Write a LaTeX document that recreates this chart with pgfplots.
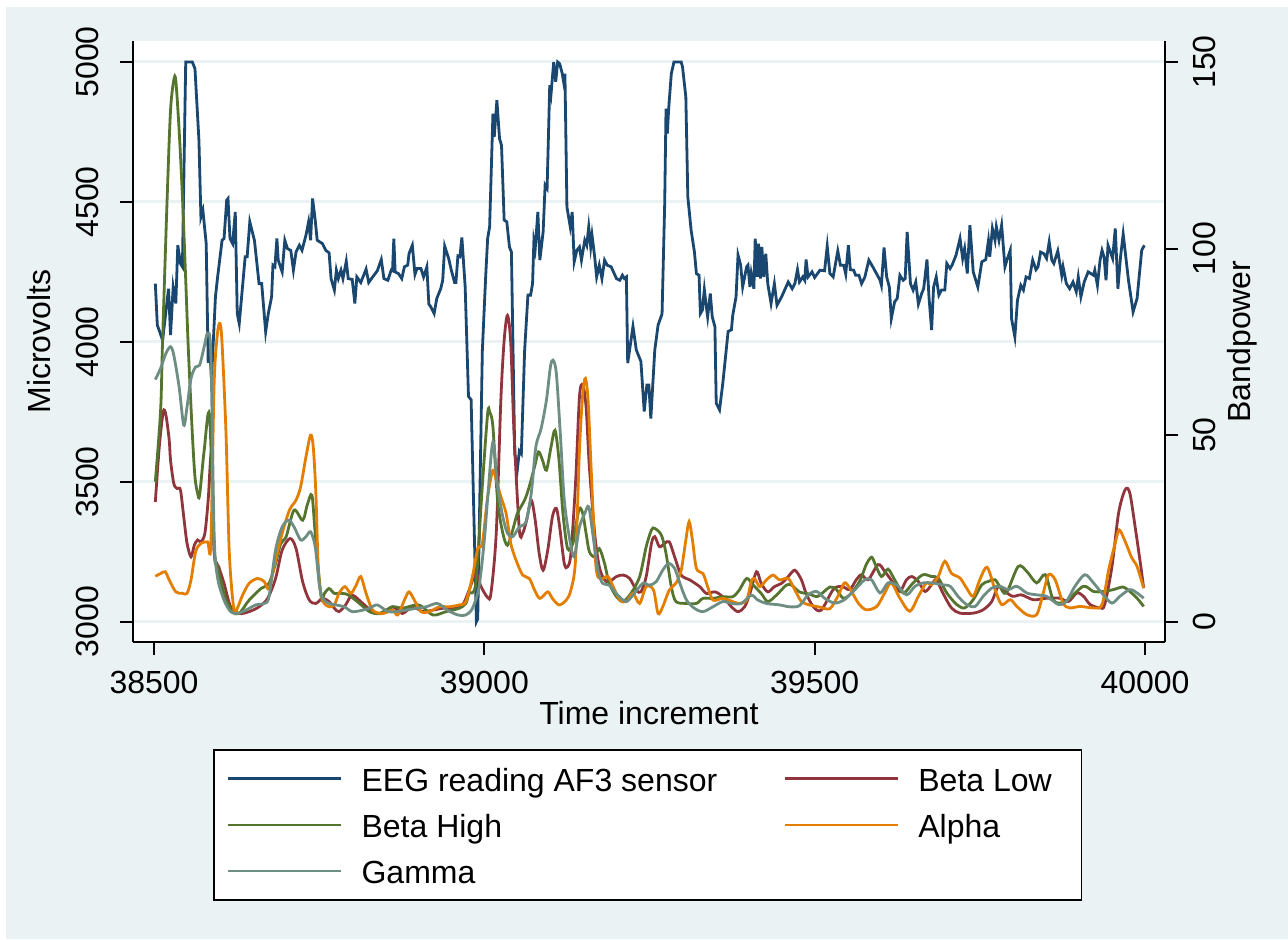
\documentclass[border=0pt]{standalone}
\usepackage{fontspec}
\setmainfont{Liberation Sans}
\usepackage{pgfplots}
\pgfplotsset{compat=1.18}
\definecolor{bgblue}{RGB}{234,242,243}
\definecolor{snavy}{RGB}{26,71,111}
\definecolor{smaroon}{RGB}{144,53,59}
\definecolor{sgreen}{RGB}{85,117,47}
\definecolor{sorange}{RGB}{227,126,0}
\definecolor{steal}{RGB}{110,142,132}
\pgfplotsset{
  common/.style={
    at={(66.5pt,148.5pt)}, anchor=south west,
    width=516pt, height=300.5pt, scale only axis,
    xmin=38468.2, xmax=40030.3,
    font=\fontsize{16}{19}\selectfont,
    axis line style={line width=1pt, black},
    tick style={line width=1pt, black},
    major tick length=6.5pt,
    tick align=outside,
    scaled ticks=false,
    /pgf/number format/1000 sep={},
    /pgf/number format/assume math mode=true,
  }
}
\begin{document}
\begin{tikzpicture}
\fill[white] (0,0) rectangle (644pt,469.5pt);
\fill[bgblue] (3pt,0) rectangle (644pt,466pt);
\begin{axis}[common,
  axis x line*=bottom, axis y line*=left,
  ymin=2927.5, ymax=5075,
  ytick={3000,3500,4000,4500,5000},
  xtick={38500,39000,39500,40000},
  ymajorgrids, grid style={line width=1.5pt, bgblue},
  axis background/.style={fill=white},
  yticklabel style={xshift=-11pt, rotate=90, anchor=base, inner sep=0pt},
  xticklabel style={yshift=-19pt, anchor=base, inner sep=0pt},
  xlabel={Time increment}, ylabel={Microvolts},
  xlabel style={at={(axis description cs:0.5,-0.138)}, anchor=base, inner sep=0pt},
  ylabel style={at={(axis description cs:-0.0804,0.5)}, anchor=base, inner sep=0pt},
]
\addplot[snavy, line width=1.4pt] coordinates {
(38502,4208)(38505,4060)(38513,4006)(38522,4190)(38525,4024)(38529,4196)(38533,4137)(38536,4345)(38540,4280)(38543,4268)
(38548,5000)(38558,5000)(38562,4976)(38568,4720)(38571,4446)(38574,4470)(38579,4351)(38582,3925)(38584,3990)(38587,3864)
(38593,4161)(38596,4226)(38603,4363)(38606,4369)(38610,4506)(38612,4512)(38615,4369)(38619,4351)(38623,4464)(38626,4101)
(38629,4065)(38638,4304)(38641,4304)(38645,4429)(38652,4363)(38659,4208)(38663,4208)(38669,4036)(38673,4101)(38678,4161)
(38680,4274)(38683,4268)(38686,4369)(38688,4292)(38694,4250)(38698,4363)(38702,4333)(38707,4327)(38711,4256)(38715,4321)
(38720,4345)(38724,4327)(38730,4381)(38734,4429)(38737,4363)(38740,4512)(38744,4435)(38747,4363)(38755,4351)(38760,4327)
(38765,4318)(38768,4226)(38773,4185)(38776,4256)(38779,4226)(38783,4256)(38786,4226)(38791,4288)(38794,4226)(38800,4223)
(38804,4137)(38807,4232)(38813,4212)(38821,4260)(38825,4212)(38831,4232)(38838,4254)(38844,4294)(38848,4226)(38854,4220)
(38859,4256)(38861,4254)(38863,4369)(38865,4250)(38870,4244)(38875,4226)(38879,4268)(38884,4274)(38886,4315)(38891,4345)
(38895,4241)(38898,4262)(38904,4262)(38908,4232)(38913,4268)(38916,4135)(38919,4125)(38924,4101)(38928,4155)(38934,4190)
(38937,4220)(38940,4342)(38946,4298)(38950,4256)(38955,4212)(38957,4212)(38960,4307)(38963,4304)(38966,4373)(38971,4196)
(38976,3805)(38980,3793)(38988,3000)(38990,3010)(38997,3970)(39002,4232)(39005,4369)(39008,4411)(39013,4815)(39015,4732)
(39019,4863)(39023,4726)(39026,4702)(39030,4435)(39034,4429)(39038,4339)(39041,4321)(39046,3600)(39050,3545)(39053,3610)
(39056,3600)(39061,3970)(39066,4167)(39070,4167)(39073,4208)(39075,4360)(39077,4333)(39081,4464)(39084,4292)(39089,4393)
(39092,4560)(39095,4548)(39099,4917)(39101,4887)(39105,5000)(39108,4929)(39111,5000)(39114,4994)(39118,4958)(39120,4929)
(39122,4958)(39125,4482)(39130,4411)(39133,4464)(39136,4286)(39140,4327)(39144,4339)(39147,4292)(39152,4363)(39155,4345)
(39158,4411)(39161,4339)(39163,4381)(39167,4304)(39170,4232)(39174,4274)(39178,4226)(39182,4292)(39186,4274)(39192,4268)
(39200,4226)(39205,4220)(39209,4238)(39212,4226)(39215,4232)(39217,3924)(39225,4055)(39230,3971)(39237,3930)(39242,3751)
(39246,3846)(39249,3846)(39252,3726)(39258,3971)(39263,4060)(39269,4100)(39273,4494)(39275,4833)(39277,4744)(39279,4833)
(39283,4958)(39287,5000)(39298,5000)(39300,4982)(39305,4875)(39308,4518)(39313,4399)(39318,4321)(39321,4244)(39325,4238)
(39327,4101)(39330,4113)(39333,4187)(39336,4125)(39338,4089)(39342,4173)(39345,4089)(39349,4054)(39351,3781)(39356,3757)
(39361,3853)(39369,4037)(39374,4043)(39376,4095)(39381,4161)(39384,4310)(39388,4274)(39391,4196)(39397,4268)(39399,4274)
(39402,4196)(39404,4244)(39408,4190)(39410,4369)(39413,4232)(39415,4351)(39418,4226)(39420,4339)(39423,4232)(39426,4315)
(39429,4208)(39434,4137)(39439,4208)(39443,4131)(39450,4161)(39460,4214)(39466,4190)(39470,4208)(39474,4258)(39477,4214)
(39482,4232)(39485,4220)(39487,4294)(39490,4232)(39496,4250)(39500,4230)(39508,4256)(39515,4254)(39519,4342)(39523,4244)
(39528,4232)(39535,4325)(39539,4274)(39544,4274)(39547,4242)(39551,4345)(39554,4258)(39559,4256)(39562,4238)(39567,4238)
(39571,4208)(39576,4232)(39582,4292)(39588,4268)(39594,4242)(39599,4220)(39601,4202)(39605,4337)(39609,4232)(39613,4196)
(39616,4083)(39621,4143)(39625,4155)(39629,4238)(39634,4220)(39637,4226)(39640,4393)(39645,4208)(39649,4185)(39653,4214)
(39657,4135)(39662,4173)(39665,4190)(39670,4294)(39673,4161)(39677,4042)(39680,4196)(39684,4232)(39688,4167)(39692,4185)
(39697,4185)(39700,4280)(39705,4262)(39708,4274)(39714,4310)(39720,4369)(39724,4298)(39727,4333)(39731,4244)(39735,4417)
(39740,4250)(39747,4196)(39753,4286)(39759,4294)(39763,4361)(39765,4304)(39769,4405)(39773,4363)(39775,4411)(39779,4363)
(39783,4417)(39788,4268)(39791,4292)(39796,4327)(39798,4083)(39803,4018)(39807,4149)(39812,4202)(39816,4185)(39820,4232)
(39825,4226)(39830,4292)(39835,4258)(39838,4268)(39842,4321)(39847,4315)(39851,4298)(39855,4357)(39859,4292)(39862,4280)
(39868,4325)(39874,4238)(39876,4268)(39881,4208)(39886,4190)(39891,4214)(39896,4179)(39899,4232)(39903,4161)(39908,4214)
(39914,4250)(39922,4238)(39924,4256)(39928,4202)(39932,4292)(39935,4327)(39938,4304)(39941,4220)(39944,4345)(39951,4298)
(39955,4405)(39959,4190)(39963,4304)(39967,4385)(39975,4220)(39982,4107)(39988,4155)(39995,4327)(39999,4345)
};
\end{axis}
\begin{axis}[common,
  axis x line=none, axis y line*=right,
  ymin=-5.44, ymax=155.625,
  ytick={0,50,100,150},
  yticklabel style={xshift=18.5pt, rotate=90, anchor=base, inner sep=0pt},
  ylabel={Bandpower},
  ylabel style={at={(axis description cs:1.0824,0.5)}, anchor=base, inner sep=0pt},
  legend columns=2,
  legend cell align=left,
  legend image code/.code={\draw[#1] (0pt,0pt) -- (56.5pt,0pt);},
  legend style={at={(axis description cs:0.0775,-0.178)}, anchor=north west,
    draw=black, line width=0.8pt, fill=white, inner xsep=6.5pt, inner ysep=3pt,
    row sep=0pt, column sep=0pt, font=\fontsize{16}{19}\selectfont,
    nodes={inner sep=0pt, text height=17.7pt, text depth=5.35pt},
    /tikz/every odd column/.append style={column sep=9.5pt}},
]
\addlegendimage{snavy, line width=1.4pt}
\addlegendentry{\makebox[211pt][l]{EEG reading AF3 sensor}}
\addplot[smaroon, line width=1.4pt, smooth] coordinates {
(38502,32.1)(38508,46.9)(38514,56.25)(38518,55.4)(38523,48.7)(38525,43.3)(38530,37)(38535,35.7)(38540,35.3)(38545,28.1)
(38550,21)(38556,17.4)(38561,20.5)(38566,21.9)(38571,21.4)(38577,23.7)(38582,32.6)(38587,45.1)(38591,19.2)(38598,14.7)
(38606,10.3)(38616,4)(38629,2.2)(38644,2.7)(38659,4)(38672,6.25)(38684,11.6)(38694,19.2)(38706,22.3)(38715,19.6)
(38725,10.7)(38735,5.8)(38745,4.9)(38755,6.25)(38765,5.4)(38773,3.6)(38780,2.7)(38790,4.5)(38800,7.1)(38816,4.9)
(38831,2.7)(38846,2.2)(38861,4)(38876,2.2)(38891,4)(38907,2.7)(38922,3.1)(38937,3.6)(38952,3.6)(38967,4.5)
(38977,8.5)(38987,12.9)(38995,9.4)(39005,6.5)(39010,7.6)(39018,23.7)(39025,59.4)(39030,75.4)(39035,82.1)(39040,74.6)
(39045,50.4)(39053,24.6)(39058,23.7)(39064,27.2)(39071,32.6)(39077,27.2)(39083,18.3)(39089,13.8)(39096,19.2)(39103,28.1)
(39109,30.4)(39114,25.4)(39121,15.6)(39126,14.7)(39131,18.3)(39138,37)(39144,60.3)(39149,63.4)(39154,57.6)(39159,41.5)
(39167,23.7)(39174,14.7)(39182,11.2)(39189,10.7)(39200,12.1)(39210,12.5)(39220,11.6)(39230,8.5)(39237,8)(39245,12.1)
(39253,21)(39258,22.8)(39265,20.1)(39273,21)(39280,21.4)(39288,17.4)(39298,12.5)(39311,11.2)(39326,9.4)(39336,7.6)
(39349,8)(39361,6.7)(39374,4)(39384,2.7)(39394,4)(39402,7.6)(39412,13.4)(39419,10.3)(39429,8)(39439,9.4)
(39450,10.3)(39460,12.1)(39470,13.8)(39480,11.2)(39487,7.6)(39498,4)(39510,3.1)(39528,8.6)(39541,9.5)(39553,8.6)
(39563,11.25)(39571,12.6)(39581,11.25)(39596,15.3)(39606,13.5)(39619,10.4)(39629,8.1)(39639,11.25)(39647,12.1)(39657,10.8)
(39667,8.1)(39677,9.9)(39684,11.25)(39694,7.7)(39707,3.7)(39720,2.3)(39740,2.3)(39755,3.2)(39768,5.4)(39778,9.5)
(39788,8.1)(39800,6.8)(39813,7.2)(39831,5.9)(39851,6.3)(39871,6.3)(39884,5.4)(39897,7.7)(39907,6.8)(39917,4.6)
(39932,3.7)(39939,4.6)(39950,14.8)(39960,29.1)(39970,35.4)(39977,34.5)(39985,25.5)(39993,15.7)(39998,9)
};
\addlegendentry{\makebox[75pt][l]{Beta Low}}
\addplot[sgreen, line width=1.4pt, smooth] coordinates {
(38502,37.5)(38510,56.7)(38513,75.5)(38520,114)(38525,137)(38530,145.2)(38533,145)(38538,131.8)(38543,114)(38548,91.6)
(38552,72.9)(38558,50.4)(38562,38.8)(38566,34.4)(38569,33.9)(38576,46)(38584,55.4)(38591,19.2)(38596,14.7)(38609,5.8)
(38621,2.7)(38629,2.2)(38644,5.8)(38662,8.9)(38674,10.3)(38684,15.6)(38692,21)(38700,22.8)(38712,29.9)(38725,27.2)
(38732,31.3)(38739,33.9)(38744,23.7)(38753,6.7)(38758,7.6)(38765,8.9)(38773,7.6)(38785,7.6)(38795,7.1)(38811,4.9)
(38826,2.7)(38841,2.2)(38861,4)(38876,3.6)(38901,4.5)(38922,1.8)(38942,2.7)(38962,3.6)(38972,4.9)(38977,7.6)
(38987,10.3)(38997,36.6)(39005,55.8)(39008,56.25)(39013,52.2)(39020,32.6)(39028,23.7)(39035,20.5)(39043,24.6)(39050,29)
(39061,32.6)(39068,36.2)(39076,41.5)(39082,45.5)(39088,43.3)(39094,40.6)(39101,46.9)(39107,51.3)(39113,43.3)(39119,29)
(39126,19.6)(39134,21)(39139,26.3)(39144,30.4)(39149,29)(39154,23.7)(39159,18.75)(39167,17.4)(39174,19.6)(39182,15.6)
(39189,10.3)(39200,6.7)(39210,5.4)(39222,7.6)(39235,12)(39245,20.1)(39253,24.6)(39258,25)(39268,23.2)(39275,18.3)
(39283,9.4)(39290,5.4)(39306,4.9)(39321,4.9)(39331,6.25)(39346,6.25)(39361,6.7)(39376,6.7)(39386,8.5)(39397,11.6)
(39407,9.8)(39419,7.6)(39429,5.4)(39442,7.1)(39457,9.8)(39465,9.8)(39477,8)(39492,7.4)(39505,6.8)(39523,9.3)
(39533,8.6)(39543,6.3)(39553,7.2)(39568,10.8)(39578,15.3)(39586,17.3)(39591,15.7)(39601,12.1)(39611,14.1)(39621,11.25)
(39634,7.7)(39649,10.4)(39664,12.6)(39677,12.1)(39687,11.7)(39700,7.7)(39715,4.6)(39727,3.7)(39740,5.9)(39753,9.9)
(39763,10.8)(39773,11.25)(39780,9.5)(39790,7.7)(39808,14.8)(39821,13.5)(39836,10.4)(39849,12.6)(39861,5.9)(39874,5)
(39886,6.3)(39907,9.5)(39922,8.1)(39937,8.1)(39952,8.6)(39967,9.3)(39977,8.1)(39988,6.3)(39998,4.1)
};
\addlegendentry{\makebox[211pt][l]{Beta High}}
\addplot[sorange, line width=1.4pt, smooth] coordinates {
(38502,12.2)(38510,12.9)(38517,13.4)(38523,11.2)(38533,8)(38543,7.6)(38550,7.6)(38556,11.2)(38563,18.75)(38571,21)
(38581,21.4)(38586,20.5)(38591,63.8)(38596,77.2)(38600,79.9)(38603,74.6)(38609,50.4)(38614,18.3)(38621,3.1)(38626,3.6)
(38634,7.1)(38644,10.3)(38657,11.6)(38667,10.7)(38674,8.9)(38684,16.5)(38694,23.7)(38705,29.9)(38715,32.6)(38722,36.2)
(38730,44.2)(38737,50)(38741,46.9)(38745,34.4)(38749,12.9)(38755,5.8)(38765,4)(38773,4.5)(38780,7.6)(38789,9.4)
(38798,7.6)(38806,9.8)(38813,12.1)(38821,7.6)(38831,3.1)(38846,2.2)(38861,3.1)(38869,1.8)(38879,5.8)(38886,8)
(38894,5.8)(38904,2.7)(38917,2.7)(38932,4)(38947,4)(38962,4.5)(38972,5.4)(38982,12.1)(38990,19.6)(38997,21)
(39005,33.5)(39013,40.6)(39018,37.9)(39025,33.5)(39033,29)(39040,21)(39048,16.5)(39058,12.5)(39068,11.6)(39076,8.5)
(39084,6.25)(39096,8)(39103,6.25)(39113,4.5)(39124,5.8)(39131,8.5)(39138,16.5)(39144,46)(39149,61.2)(39153,65.2)
(39157,59.4)(39162,39.7)(39169,14.7)(39177,11.6)(39187,12.1)(39195,9.4)(39205,5.8)(39215,5.4)(39225,7.6)(39235,4.9)
(39245,9.4)(39256,8.5)(39263,2.2)(39270,4)(39280,8.5)(39290,10.3)(39298,13.8)(39305,21.9)(39310,26.8)(39315,21.9)
(39321,14.3)(39331,12.9)(39338,9.4)(39346,5.8)(39361,6.25)(39376,5.4)(39386,4.9)(39397,5.8)(39404,10.7)(39409,11.6)
(39417,9.4)(39427,11.2)(39437,12.5)(39447,11.2)(39460,11.6)(39470,8.5)(39480,5.4)(39492,4.5)(39508,3.9)(39523,3.5)
(39535,6.8)(39545,10.4)(39553,9)(39566,5)(39578,3.2)(39594,4.1)(39606,7.7)(39616,10.4)(39629,6.3)(39644,2.8)
(39657,6.8)(39669,10.4)(39677,9.9)(39687,12.1)(39697,16.2)(39707,13)(39720,11.7)(39730,9)(39740,6.8)(39750,11.25)
(39761,14.6)(39773,8.6)(39783,4.6)(39796,5.9)(39806,4.1)(39821,1.9)(39836,1.9)(39846,7.7)(39854,12.6)(39864,11.25)
(39876,5)(39886,3.7)(39902,4.1)(39922,3.7)(39935,4.6)(39945,13.9)(39955,21.1)(39961,24.6)(39970,21.5)(39980,17.1)
(39988,14.8)(39998,9)
};
\addlegendentry{\makebox[75pt][l]{Alpha}}
\addplot[steal, line width=1.4pt, smooth] coordinates {
(38502,64.9)(38510,67.9)(38518,71.9)(38525,73.7)(38530,71.4)(38538,62.9)(38545,52.7)(38550,57.6)(38556,65.2)(38563,68.3)
(38569,68.75)(38576,73.7)(38581,77.2)(38586,71.9)(38591,23.7)(38596,12)(38606,5.8)(38616,2.7)(38626,2.2)(38639,3.1)
(38654,4.5)(38667,4.9)(38674,6.7)(38684,19.2)(38694,25.4)(38704,27.2)(38712,25.4)(38722,21.9)(38730,22.8)(38737,24.1)
(38744,20.1)(38750,10.3)(38755,6.25)(38765,4.9)(38775,4.5)(38788,4)(38800,2.7)(38816,3.1)(38826,3.6)(38838,4.5)
(38854,2.7)(38866,2.7)(38881,3.1)(38897,3.6)(38912,4)(38929,4.9)(38944,3.1)(38960,1.8)(38972,1.8)(38982,3.6)
(38992,9.4)(39000,21.9)(39005,33)(39013,48.2)(39020,36.2)(39028,28.1)(39035,23.7)(39043,22.8)(39053,25.4)(39063,26.8)
(39071,34.4)(39078,46.9)(39086,51.8)(39094,59.4)(39100,68.3)(39104,70.1)(39109,66.5)(39115,50.4)(39121,32.6)(39129,22.3)
(39136,17.4)(39144,25.4)(39152,29)(39158,30.8)(39164,23.7)(39172,13.8)(39179,10.3)(39189,9.8)(39202,7.1)(39215,5.4)
(39227,7.6)(39240,10.3)(39250,9.8)(39260,10.7)(39270,13.8)(39279,15.6)(39288,14.3)(39296,10.3)(39306,5.8)(39318,3.6)
(39331,2.7)(39346,4)(39361,5.4)(39374,4.9)(39389,4.9)(39404,7.1)(39414,5.8)(39427,4.9)(39447,4.5)(39462,4)
(39477,4.3)(39490,7.2)(39503,8.1)(39515,6.3)(39530,5)(39545,5.9)(39561,8.6)(39576,11.25)(39586,11.25)(39599,7.7)
(39611,10.4)(39624,9.9)(39639,7.2)(39652,9.5)(39664,10.4)(39679,10.4)(39692,9.9)(39705,9.5)(39717,6.8)(39730,4.6)
(39743,4.1)(39755,6.8)(39768,9)(39780,9.5)(39793,8.6)(39806,9.5)(39821,7.7)(39836,7.2)(39851,6.8)(39869,4.6)
(39881,5.4)(39894,9.5)(39909,12.6)(39922,10.4)(39937,7.2)(39950,5)(39962,6.8)(39977,8.6)(39988,7.7)(39998,6.3)
};
\addlegendentry{\makebox[211pt][l]{Gamma}}
\end{axis}
\end{tikzpicture}
\end{document}
